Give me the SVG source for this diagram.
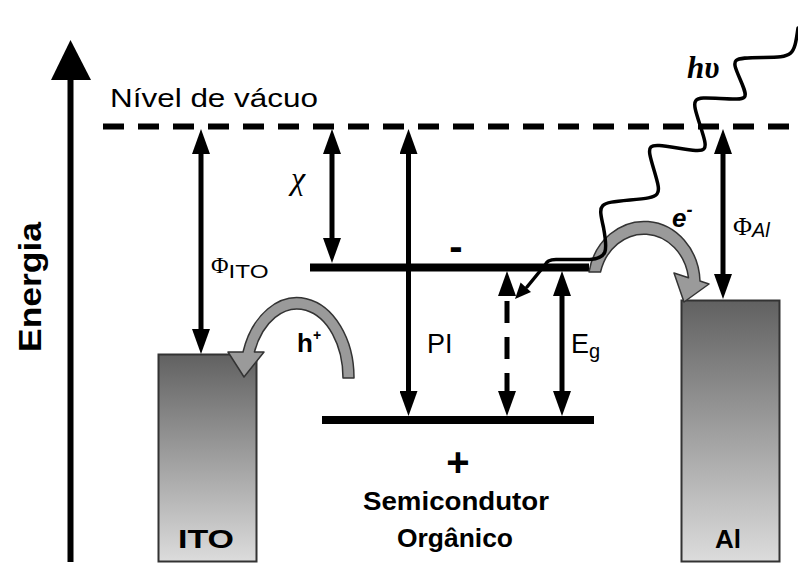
<svg xmlns="http://www.w3.org/2000/svg" width="798" height="563" viewBox="0 0 798 563">
<style>
text{font-family:"Liberation Sans",Arial,sans-serif;fill:#000}
.b{font-weight:bold}
.serif{font-family:"Liberation Serif","Times New Roman",serif}
.sh{stroke:#000;stroke-width:5;fill:none}
.lvl{stroke:#000;stroke-width:8}
.box{stroke:#333;stroke-width:2;fill:url(#metal)}
.garrow{fill:#9a9a9a;stroke:#333;stroke-width:1.5;stroke-linejoin:round}
.wave{fill:none;stroke:#000;stroke-width:3.5;stroke-linecap:round;stroke-linejoin:round}
</style>
<defs>
<linearGradient id="metal" x1="0" y1="0" x2="0" y2="1">
<stop offset="0" stop-color="#616161"/>
<stop offset="1" stop-color="#dcdcdc"/>
</linearGradient>
<marker id="ah" markerUnits="userSpaceOnUse" markerWidth="26" markerHeight="18" refX="0" refY="9" orient="auto-start-reverse" viewBox="0 0 26 18">
<path d="M0,0 L25,9 L0,18 Z" fill="#000"/>
</marker>
</defs>

<g id="axis">
<line x1="70.5" y1="76" x2="70.5" y2="562" stroke="#000" stroke-width="6"/>
<polygon points="70.5,40 51,80 91,80" fill="#000"/>
<text class="b" transform="translate(41,287) rotate(-90)" text-anchor="middle" font-size="32" textLength="130" lengthAdjust="spacingAndGlyphs">Energia</text>
</g>

<g id="vacuum">
<line x1="103" y1="126.5" x2="798" y2="126.5" stroke="#000" stroke-width="6" stroke-dasharray="21 14"/>
<text x="110" y="107" font-size="26" textLength="208" lengthAdjust="spacingAndGlyphs">Nível de vácuo</text>
</g>

<g id="ito">
<rect class="box" x="158.5" y="354.5" width="98" height="207"/>
<text class="b" x="206" y="548" text-anchor="middle" font-size="26" textLength="56" lengthAdjust="spacingAndGlyphs">ITO</text>
</g>

<g id="al">
<rect class="box" x="681.5" y="300.5" width="98" height="261"/>
<text class="b" x="728" y="548" text-anchor="middle" font-size="26">Al</text>
</g>

<g id="semiconductor">
<line class="lvl" x1="310" y1="267.5" x2="589" y2="267.5"/>
<line class="lvl" x1="322" y1="420" x2="594" y2="420"/>
<text class="b" x="456" y="260" text-anchor="middle" font-size="40">-</text>
<text class="b" x="458" y="476" text-anchor="middle" font-size="40">+</text>
<text class="b" x="456" y="510" text-anchor="middle" font-size="26" textLength="186" lengthAdjust="spacingAndGlyphs">Semicondutor</text>
<text class="b" x="455" y="547" text-anchor="middle" font-size="26" textLength="116" lengthAdjust="spacingAndGlyphs">Orgânico</text>
</g>

<g id="connectors">
<line class="sh" x1="201" y1="154" x2="201" y2="329" marker-start="url(#ah)" marker-end="url(#ah)"/>
<line class="sh" x1="332" y1="154" x2="332" y2="238" marker-start="url(#ah)" marker-end="url(#ah)"/>
<line class="sh" x1="408.5" y1="154" x2="408.5" y2="391" marker-start="url(#ah)" marker-end="url(#ah)"/>
<line class="sh" x1="562" y1="296" x2="562" y2="391" marker-start="url(#ah)" marker-end="url(#ah)"/>
<line class="sh" x1="723" y1="154" x2="723" y2="274" marker-start="url(#ah)" marker-end="url(#ah)"/>
<line class="sh" x1="507" y1="301" x2="507" y2="394" stroke-dasharray="22 14"/>
<polygon points="507,271 498,296 516,296" fill="#000"/>
<polygon points="507,416 498,391 516,391" fill="#000"/>

<path class="garrow" d="M354,378 A57,80 0 0 0 243,352 L228,352 L244,377 L264,352 L254.4,352 A46,69 0 0 1 343,378 Z"/>
<path class="garrow" d="M589,272 A56,62 0 0 1 700,281 L709,284 L684,302 L674,273 L688.5,277.7 A45,51 0 0 0 600.5,272 Z"/>

<path class="wave" d="M798,28 C794,57 793,57 763,57.5 C731,58 731,58 740,79 C749,100 749,100 720,98.5 C691,97 691,97 700,125 C709,153 709,153 677.5,148 C646,143 646,143 654,170 C662,197 662,197 630,200 C598,203 598,203 603.5,227.5 C608,252 607,258 590,259.5 L556,259.5 Q547,259.5 545,265 L527,287"/>
<polygon points="515,299 531,292 520.6,282.5" fill="#000"/>
</g>

<g id="labels">
<text x="211" y="273"><tspan class="serif" font-size="24">Φ</tspan><tspan font-size="18" dy="5" textLength="40" lengthAdjust="spacingAndGlyphs">ITO</tspan></text>
<text class="serif" x="291" y="189" font-size="32" font-style="italic">χ</text>
<text x="427" y="353" font-size="27">PI</text>
<text x="571" y="353" font-size="27">E<tspan font-size="20" dy="5">g</tspan></text>
<text x="733" y="235"><tspan class="serif" font-size="26">Φ</tspan><tspan font-size="20" font-style="italic" dy="2">Al</tspan></text>
<text class="serif" x="687" y="78" font-size="31" font-weight="bold" font-style="italic">hυ</text>
<text class="b" x="297" y="352" font-size="26">h<tspan font-size="14" dy="-12">+</tspan></text>
<text class="b" x="672" y="227" font-size="26" font-style="italic">e<tspan font-size="18" dy="-11">-</tspan></text>
</g>
</svg>
